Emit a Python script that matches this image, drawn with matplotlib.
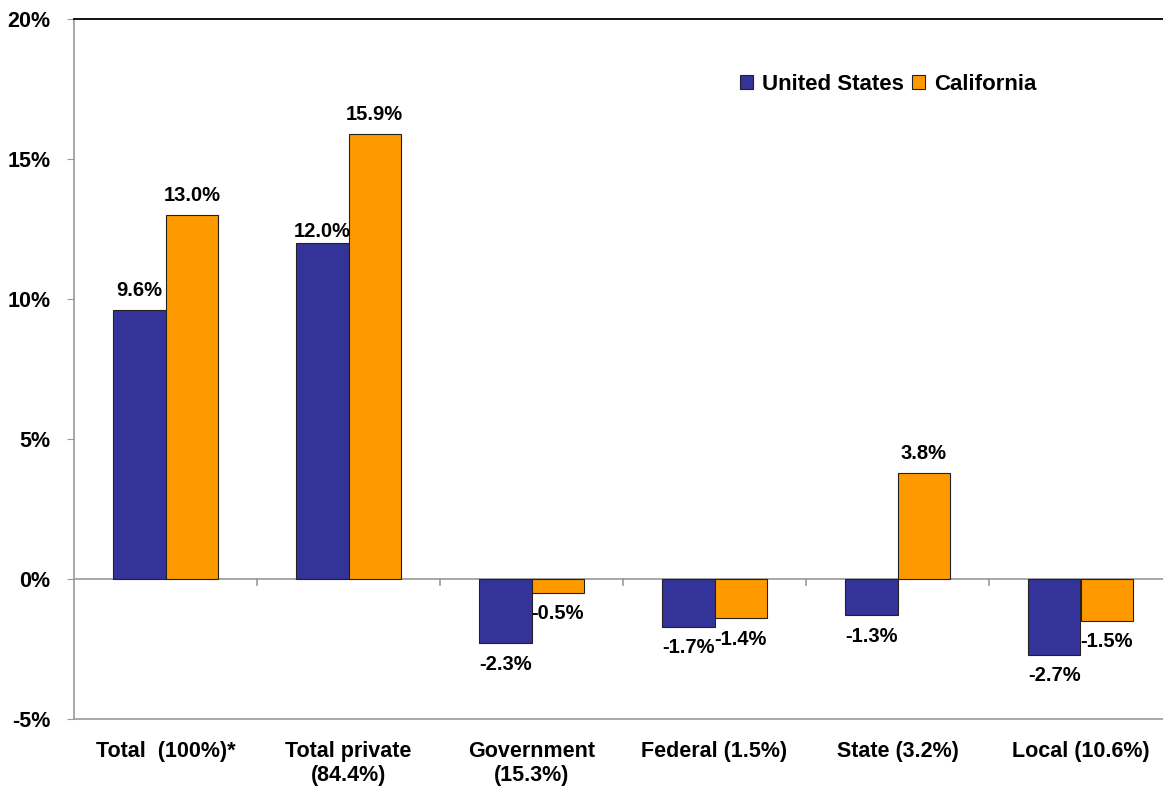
import matplotlib
matplotlib.use("Agg")
import matplotlib.pyplot as plt
import numpy as np

categories = ["Total  (100%)*", "Total private\n(84.4%)", "Government\n(15.3%)",
              "Federal (1.5%)", "State (3.2%)", "Local (10.6%)"]
us_values = [9.6, 12.0, -2.3, -1.7, -1.3, -2.7]
ca_values = [13.0, 15.9, -0.5, -1.4, 3.8, -1.5]
series_names = ["United States", "California"]
y_ticks = [-5, 0, 5, 10, 15, 20]

US_COLOR = "#333399"
CA_COLOR = "#FF9900"

plt.rcParams['font.family'] = ['Liberation Sans', 'DejaVu Sans']
plt.rcParams['font.weight'] = 'bold'

W, H = 1163, 786
fig = plt.figure(figsize=(W / 100, H / 100), dpi=100)
ax = fig.add_axes([74 / W, 1 - 719 / H, (1172 - 74) / W, (719 - 19) / H])

x = np.arange(len(categories))
bw = 0.287
b1 = ax.bar(x - bw / 2, us_values, bw, color=US_COLOR, edgecolor="#222222", linewidth=0.8,
            label=series_names[0], zorder=3)
b2 = ax.bar(x + bw / 2, ca_values, bw, color=CA_COLOR, edgecolor="#222222", linewidth=0.8,
            label=series_names[1], zorder=3)

def lab(bars, vals, pos_off=14, neg_off=-15, special=None):
    for i, (rect, v) in enumerate(zip(bars, vals)):
        cx = rect.get_x() + rect.get_width() / 2
        off = pos_off if v >= 0 else neg_off
        if special and i in special:
            off = special[i]
        ax.annotate(f"{v:.1f}%", (cx, v), xytext=(0, off), textcoords="offset points",
                    ha="center", va="center", fontsize=14.5, fontweight="bold", zorder=4)

lab(b1, us_values, special={1: 8})
lab(b2, ca_values)

ax.set_xlim(-0.5, len(categories) - 0.5)
ax.set_ylim(-5, 20)
ax.set_yticks(y_ticks)
ax.set_yticklabels([f"{t}%" for t in y_ticks], fontsize=15.5, fontweight="bold")
ax.tick_params(axis="y", direction="out", length=5, color="#999999", pad=12)

ax.set_xticks(x)
ax.set_xticklabels(categories, fontsize=15.5, fontweight="bold", linespacing=1.15)
ax.tick_params(axis="x", length=0, pad=16)
for t in ax.get_xticklabels():
    t.set_va("top")

ax.spines["right"].set_visible(False)
ax.spines["top"].set_color("black")
ax.spines["top"].set_linewidth(1.3)
ax.spines["left"].set_color("#999999")
ax.spines["bottom"].set_color("#999999")
ax.spines["left"].set_linewidth(1.2)
ax.spines["bottom"].set_linewidth(1.2)

ax.axhline(0, color="#999999", linewidth=1.2, zorder=2)
for b in np.arange(0.5, len(categories) - 1, 1.0):
    ax.plot([b, b], [0, -0.22], color="#999999", linewidth=1.2, zorder=2)

leg = ax.legend(loc="center left", bbox_to_anchor=((740 - 74) / 1098, 1 - (84 - 19) / 700),
                ncol=2, frameon=False, fontsize=16, handlelength=0.6, handleheight=0.6,
                columnspacing=0.35, handletextpad=0.4, borderaxespad=0, borderpad=0)
for t in leg.get_texts():
    t.set_fontweight("bold")
for h in leg.legend_handles:
    h.set_edgecolor("#222222")

fig.savefig("out.png", dpi=100, facecolor="white")
